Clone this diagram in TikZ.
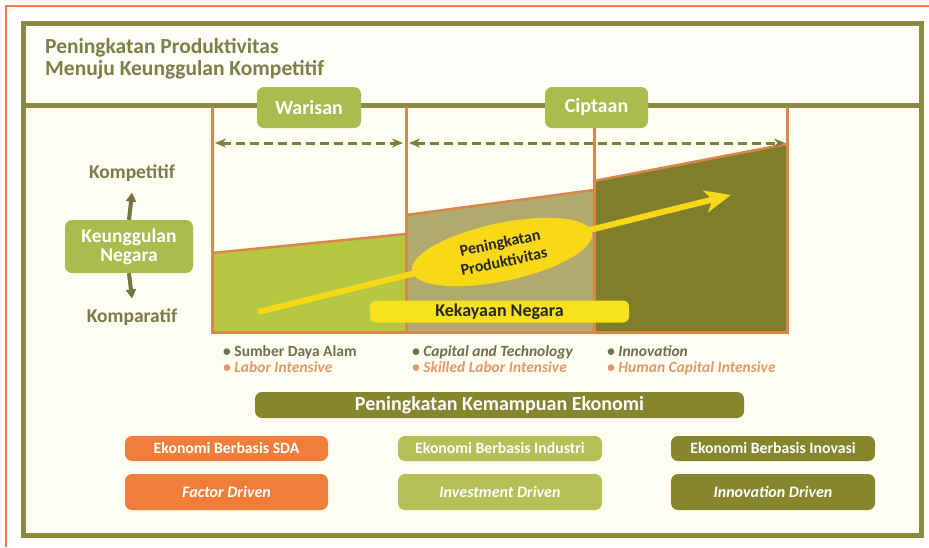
\documentclass[tikz,border=0pt]{standalone}
\usepackage{fontspec}
\setmainfont{Carlito}
\usetikzlibrary{arrows.meta,positioning,shapes.geometric}

\begin{document}
\begin{tikzpicture}[x=1pt,y=-1pt,
  pill/.style={rounded corners=7pt,text=white,inner sep=0pt,font=\bfseries\fontsize{16}{16}\selectfont},
  side/.style={text=sidetext,inner sep=0pt,font=\bfseries\fontsize{19.5}{19.5}\selectfont},
  bul/.style={anchor=base west,inner sep=0pt,font=\bfseries\fontsize{15.5}{15.5}\selectfont},
  bulA/.style={bul,text=bulgray},
  bulB/.style={bul,text=bulorange,font=\bfseries\itshape\fontsize{15.5}{15.5}\selectfont},
  span/.style={{Stealth[length=11pt,width=9pt]}-{Stealth[length=11pt,width=9pt]},draw=dashol,line width=3pt,dash pattern=on 9pt off 5pt},
  vert/.style={-{Triangle[length=9pt,width=10pt]},draw=arrowol,line width=4pt}]
\definecolor{frameol}{HTML}{8C8A40}
\definecolor{edgeor}{HTML}{F47B4C}
\definecolor{lineor}{HTML}{D98749}
\definecolor{cream}{HTML}{FDFDF1}
\definecolor{leaf}{HTML}{A9BC4E}
\definecolor{grass}{HTML}{B6C742}
\definecolor{khaki}{HTML}{B1A96E}
\definecolor{moss}{HTML}{7F7F2B}
\definecolor{darkol}{HTML}{86862F}
\definecolor{carrot}{HTML}{F07E3A}
\definecolor{lime}{HTML}{B3C156}
\definecolor{sun}{HTML}{F7D917}
\definecolor{sunbox}{HTML}{F8E21C}
\definecolor{titletext}{HTML}{7E7E48}
\definecolor{sidetext}{HTML}{7A7A4C}
\definecolor{bulgray}{HTML}{6F6F4C}
\definecolor{bulorange}{HTML}{E39868}
\definecolor{dashol}{HTML}{7E7E3A}
\definecolor{arrowol}{HTML}{74743F}
\useasboundingbox (0,0) rectangle (929,547);
\fill[white] (0,0) rectangle (929,547);
\draw[edgeor,line width=2pt] (6,547) -- (6,6) -- (929,6);
% frame and title band
\fill[cream] (23.5,105.5) rectangle (921.5,535.5);
\fill[white!60!cream] (23.5,23.5) rectangle (921.5,105.5);
\draw[frameol,line width=5.5pt] (23.5,23.5) rectangle (921.5,535.5);
\draw[frameol,line width=5pt] (23.5,105.5) -- (921.5,105.5);
\node[anchor=base west,inner sep=0pt,text=titletext,font=\bfseries\fontsize{21.5}{21.5}\selectfont] (title) at (45,53) {Peningkatan Produktivitas};
\node[anchor=base west,inner sep=0pt,text=titletext,font=\bfseries\fontsize{21.5}{21.5}\selectfont] (subtitle) at (45,75) {Menuju Keunggulan Kompetitif};
% chart
\fill[grass] (212,253) -- (406,234) -- (406,332) -- (212,332) -- cycle;
\fill[khaki] (406,215) -- (594,190) -- (594,332) -- (406,332) -- cycle;
\fill[moss] (594,181) -- (787,144) -- (787,332) -- (594,332) -- cycle;
\draw[lineor,line width=2.5pt] (212,253) -- (406,234) (406,215) -- (594,190) (594,181) -- (787,144);
\foreach \xx in {212,406,594,787}
  \draw[lineor,line width=3pt] (\xx,107) -- (\xx,333.5);
\draw[lineor,line width=3pt] (210.5,332) -- (788.5,332);
\node[pill,fill=leaf,minimum width=104,minimum height=41,font=\bfseries\fontsize{20}{20}\selectfont] (warisan) at (309,107.5) {Warisan};
\node[pill,fill=leaf,minimum width=103,minimum height=41,font=\bfseries\fontsize{20}{20}\selectfont] (ciptaan) at (596.5,107.5) {Ciptaan};
\coordinate (wA) at (215,143);
\coordinate (wB) at (403,143);
\coordinate (cA) at (409,143);
\coordinate (cB) at (785,143);
\draw[span] (wA) -- (wB);
\draw[span] (cA) -- (cB);
\coordinate (riseA) at (258,312);
\coordinate (riseB) at (731,195);
\draw[sun,line width=6pt,-{Stealth[length=26pt,width=22pt,inset=7pt]}] (riseA) -- (riseB);
\node[ellipse,fill=sun,minimum width=184,minimum height=58,rotate=12,inner sep=0pt,align=center,text=black!85,font=\bfseries\fontsize{16}{19}\selectfont] (prod) at (502,252) {Peningkatan\\Produktivitas};
\node[pill,fill=sunbox,text=black!85,minimum width=259,minimum height=22,rounded corners=6pt,font=\bfseries\fontsize{18}{18}\selectfont] (wealth) at (499.5,311.5) {Kekayaan Negara};
% left axis
\node[pill,fill=leaf,minimum width=128,minimum height=53,align=center,font=\bfseries\fontsize{19.5}{19}\selectfont] (keung) at (129,246.5) {Keunggulan\\Negara};
\node[side] (kompet) at (132,173) {Kompetitif};
\node[side] (kompar) at (132,317) {Komparatif};
\draw[vert] (keung.north) -- ([yshift=-11pt]kompet.south);
\draw[vert] (keung.south) -- ([yshift=10pt]kompar.north);
% bullets
\node[bulA] (b1) at (223,356) {• Sumber Daya Alam};
\node[bulB] (b2) at (223,372) {• Labor Intensive};
\node[bulA,font=\bfseries\itshape\fontsize{15.5}{15.5}\selectfont] (b3) at (412,356) {• Capital and Technology};
\node[bulB] (b4) at (412,372) {• Skilled Labor Intensive};
\node[bulA,font=\bfseries\itshape\fontsize{15.5}{15.5}\selectfont] (b5) at (607,356) {• Innovation};
\node[bulB] (b6) at (607,372) {• Human Capital Intensive};
% bottom boxes
\node[pill,fill=darkol,minimum width=489,minimum height=26,font=\bfseries\fontsize{20}{20}\selectfont] (econ) at (499.5,405) {Peningkatan Kemampuan Ekonomi};
\node[pill,fill=carrot,minimum width=203,minimum height=25,font=\bfseries\fontsize{15.75}{15.75}\selectfont] (sda) at (226.5,448.5) {Ekonomi Berbasis SDA};
\node[pill,fill=lime,minimum width=204,minimum height=25,font=\bfseries\fontsize{15.75}{15.75}\selectfont] (ind) at (500,448.5) {Ekonomi Berbasis Industri};
\node[pill,fill=darkol,minimum width=204,minimum height=25,font=\bfseries\fontsize{15.75}{15.75}\selectfont] (ino) at (773,448.5) {Ekonomi Berbasis Inovasi};
\node[pill,fill=carrot,minimum width=203,minimum height=36,font=\bfseries\itshape\fontsize{16}{16}\selectfont] (fd) at (226.5,492) {Factor Driven};
\node[pill,fill=lime,minimum width=204,minimum height=36,font=\bfseries\itshape\fontsize{16}{16}\selectfont] (id) at (500,492) {Investment Driven};
\node[pill,fill=darkol,minimum width=204,minimum height=36,font=\bfseries\itshape\fontsize{16}{16}\selectfont] (nd) at (773,492) {Innovation Driven};
\end{tikzpicture}
\end{document}
